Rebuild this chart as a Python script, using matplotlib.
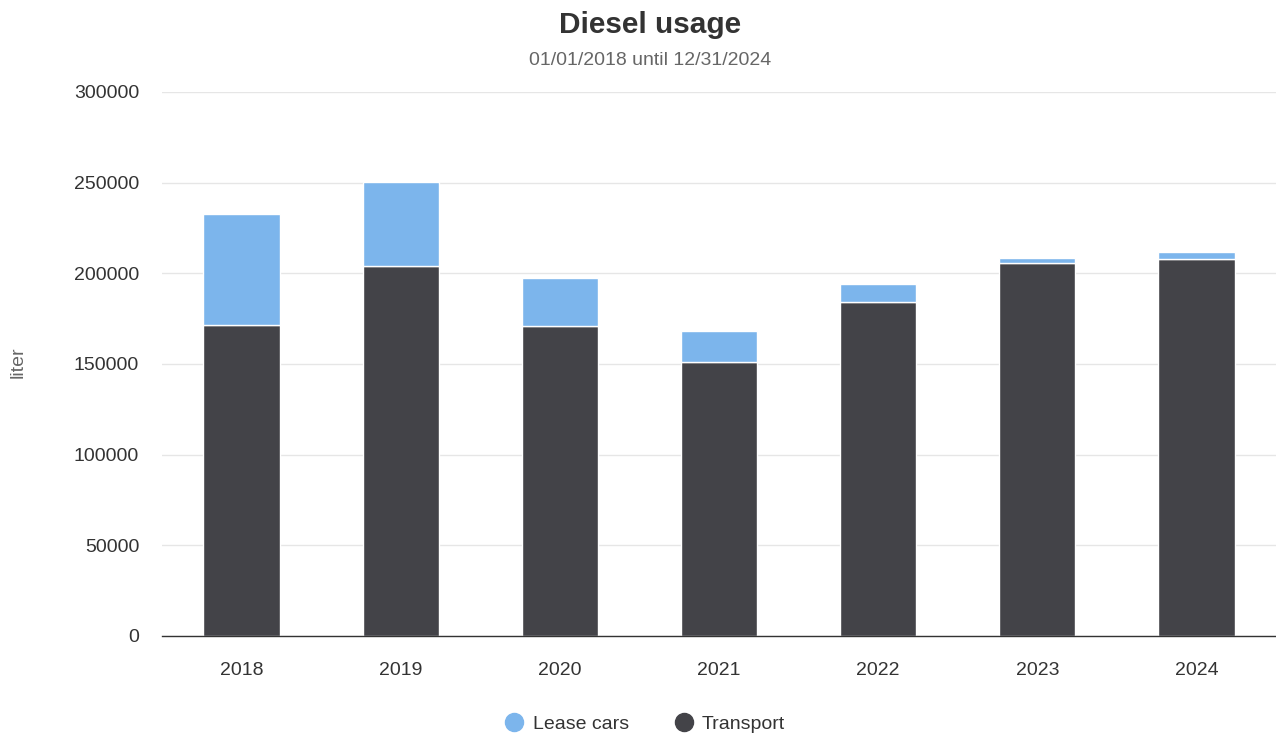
import matplotlib
matplotlib.use("Agg")
import matplotlib.pyplot as plt
from matplotlib.lines import Line2D

plt.rcParams['font.family'] = ['Liberation Sans', 'DejaVu Sans']

years = ["2018", "2019", "2020", "2021", "2022", "2023", "2024"]
transport = [171500, 203900, 170700, 151100, 184400, 205900, 208100]
lease_cars = [61000, 46300, 26700, 17300, 9700, 2600, 3700]

lease_color = "#7cb5ec"
transport_color = "#434348"

fig = plt.figure(figsize=(12.76, 7.36), dpi=100)
ax = fig.add_axes([0.127, 0.1359, 0.873, 0.7391])

x = list(range(len(years)))
ax.bar(x, transport, width=0.48, color=transport_color, edgecolor="white", linewidth=1, zorder=3)
ax.bar(x, lease_cars, width=0.48, bottom=transport, color=lease_color, edgecolor="white", linewidth=1, zorder=3)

ax.set_xlim(-0.5, len(years) - 0.5)
ax.set_ylim(0, 300000)
ax.set_yticks(range(0, 300001, 50000))
ax.set_yticklabels([str(v) for v in range(0, 300001, 50000)])
ax.set_xticks(x)
ax.set_xticklabels(years)
ax.tick_params(axis='both', length=0, labelsize=14, colors="#333333")
ax.tick_params(axis='y', pad=16.5)
ax.tick_params(axis='x', pad=19)
ax.grid(axis='y', color="#e6e6e6", linewidth=1, zorder=0)
for s in ["top", "right", "left"]:
    ax.spines[s].set_visible(False)
ax.spines["bottom"].set_color("#333333")
ax.spines["bottom"].set_linewidth(1)
ax.spines["bottom"].set_zorder(4)

fig.text(0.0141, 0.5075, "liter", rotation=90, ha="center", va="center", fontsize=14, color="#666666")
fig.text(0.5098, 0.9665, "Diesel usage", ha="center", va="center", fontsize=21.4, fontweight="bold", color="#333333")
fig.text(0.5098, 0.918, "01/01/2018 until 12/31/2024", ha="center", va="center", fontsize=14, color="#666666")

handles = [
    Line2D([], [], marker="o", linestyle="", markersize=13, markerfacecolor=lease_color, markeredgecolor=lease_color, label="Lease cars"),
    Line2D([], [], marker="o", linestyle="", markersize=13, markerfacecolor=transport_color, markeredgecolor=transport_color, label="Transport"),
]
leg = fig.legend(handles=handles, loc="center", bbox_to_anchor=(0.5055, 0.0163), ncol=2, frameon=False,
                 fontsize=14, handletextpad=0.45, columnspacing=2.3, handlelength=1.0)
for t in leg.get_texts():
    t.set_color("#333333")

fig.savefig("out.png", dpi=100)
